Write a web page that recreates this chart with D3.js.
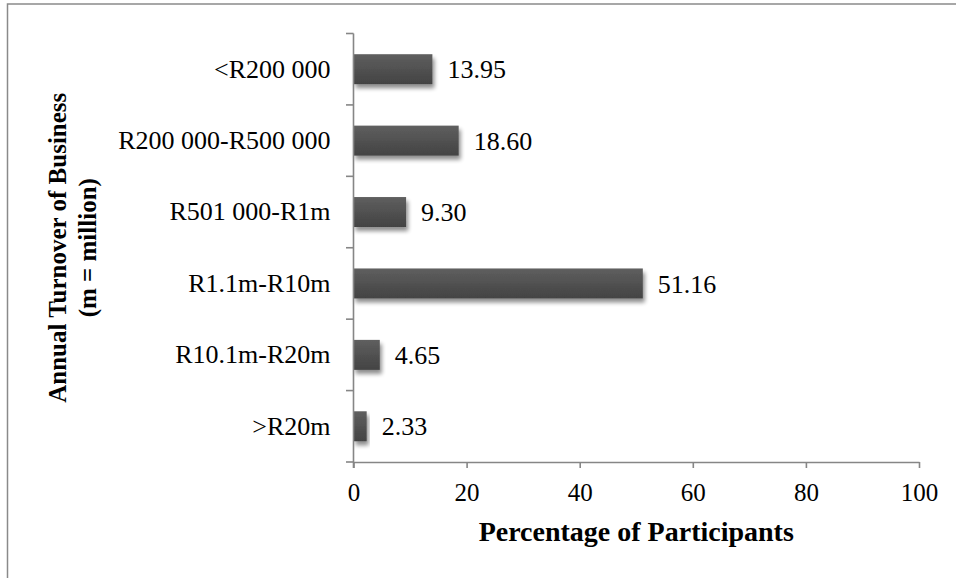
<!DOCTYPE html>
<html>
<head>
<meta charset="utf-8">
<script src="https://cdn.jsdelivr.net/npm/d3@7/dist/d3.min.js"></script>
<style>
  html, body { margin: 0; padding: 0; background: #fff; }
  svg { display: block; }
  text { font-family: "Liberation Serif", "Times New Roman", serif; fill: #000; }
</style>
</head>
<body>
<svg id="chart" width="956" height="578"></svg>
<script>
// Annual turnover brackets (top to bottom) and share of participants (%)
const categories = ["<R200 000", "R200 000-R500 000", "R501 000-R1m", "R1.1m-R10m", "R10.1m-R20m", ">R20m"];
const values = [13.95, 18.60, 9.30, 51.16, 4.65, 2.33];
const xTicks = [0, 20, 40, 60, 80, 100];
const xTitle = "Percentage of Participants";
const yTitleLines = ["Annual Turnover of Business", "(m = million)"];

const svg = d3.select("#chart");
const W = 956, H = 578;

const plot = { left: 353.5, right: 919, top: 33.5, bottom: 462 };

const x = d3.scaleLinear().domain([0, 100]).range([plot.left, plot.right]);
const y = d3.scaleBand().domain(categories)
  .range([plot.top, plot.bottom])
  .paddingInner(0.58).paddingOuter(0.29);

const axisColor = "#868686";

// outer frame of the chart area
svg.append("rect")
  .attr("x", 7.5).attr("y", 4)
  .attr("width", W + 20).attr("height", H + 20)
  .attr("fill", "none").attr("stroke", "#8a8a8a").attr("stroke-width", 1.5);

// bar fill and soft shadow
const defs = svg.append("defs");
const grad = defs.append("linearGradient").attr("id", "barFill")
  .attr("x1", 0).attr("y1", 0).attr("x2", 0).attr("y2", 1);
grad.append("stop").attr("offset", "0%").attr("stop-color", "#5f5f5f");
grad.append("stop").attr("offset", "100%").attr("stop-color", "#434343");

const shadow = defs.append("filter").attr("id", "barShadow")
  .attr("x", "-10%").attr("y", "-30%").attr("width", "130%").attr("height", "190%");
shadow.append("feGaussianBlur").attr("in", "SourceAlpha").attr("stdDeviation", 2.2).attr("result", "blur");
shadow.append("feOffset").attr("in", "blur").attr("dx", 2).attr("dy", 3.5).attr("result", "off");
shadow.append("feComponentTransfer").attr("in", "off").attr("result", "soft")
  .append("feFuncA").attr("type", "linear").attr("slope", 0.45);
const merge = shadow.append("feMerge");
merge.append("feMergeNode").attr("in", "soft");
merge.append("feMergeNode").attr("in", "SourceGraphic");

// bars
svg.append("g").selectAll("rect")
  .data(categories)
  .join("rect")
  .attr("x", x(0))
  .attr("y", d => y(d))
  .attr("width", (d, i) => x(values[i]) - x(0))
  .attr("height", y.bandwidth())
  .attr("fill", "url(#barFill)")
  .attr("filter", "url(#barShadow)");

// value labels
svg.append("g").selectAll("text")
  .data(categories)
  .join("text")
  .attr("x", (d, i) => x(values[i]) + 15)
  .attr("y", d => y(d) + y.bandwidth() / 2)
  .attr("dy", "0.35em")
  .style("font-size", "26px")
  .text((d, i) => values[i].toFixed(2));

// x axis
const xAxis = svg.append("g")
  .attr("transform", `translate(0,${plot.bottom})`)
  .call(d3.axisBottom(x).tickValues(xTicks).tickSize(6).tickSizeOuter(0).tickPadding(15));
xAxis.select(".domain").attr("stroke", axisColor).attr("stroke-width", 1.6);
xAxis.selectAll(".tick line").attr("stroke", axisColor).attr("stroke-width", 1.6);
xAxis.selectAll(".tick text")
  .style("font-size", "25px").style("font-family", "Liberation Serif, serif").attr("fill", "#000");

// y axis: labels centred on bands, ticks on band boundaries
const yAxis = svg.append("g")
  .attr("transform", `translate(${plot.left},0)`)
  .call(d3.axisLeft(y).tickSize(0).tickPadding(23));
yAxis.select(".domain").remove();
yAxis.selectAll(".tick text")
  .style("font-size", "26px").style("font-family", "Liberation Serif, serif").attr("fill", "#000");

const boundaries = d3.range(categories.length + 1).map(i => plot.top + i * (plot.bottom - plot.top) / categories.length);
const yLines = svg.append("g");
yLines.append("line")
  .attr("x1", plot.left).attr("x2", plot.left)
  .attr("y1", plot.top).attr("y2", plot.bottom + 6)
  .attr("stroke", axisColor).attr("stroke-width", 1.6);
yLines.selectAll("line.tk")
  .data(boundaries)
  .join("line").attr("class", "tk")
  .attr("x1", plot.left - 7.5).attr("x2", plot.left)
  .attr("y1", d => d).attr("y2", d => d)
  .attr("stroke", axisColor).attr("stroke-width", 1.6);

// axis titles
svg.append("text")
  .attr("x", (plot.left + plot.right) / 2)
  .attr("y", 541)
  .attr("text-anchor", "middle")
  .style("font-size", "28px").style("font-weight", "bold")
  .text(xTitle);

const yt = svg.append("text")
  .attr("transform", `translate(0,${(plot.top + plot.bottom) / 2}) rotate(-90)`)
  .attr("text-anchor", "middle")
  .style("font-size", "25px").style("font-weight", "bold");
yt.selectAll("tspan")
  .data(yTitleLines)
  .join("tspan")
  .attr("x", 0)
  .attr("y", (d, i) => 66 + i * 30)
  .text(d => d);
</script>
</body>
</html>
